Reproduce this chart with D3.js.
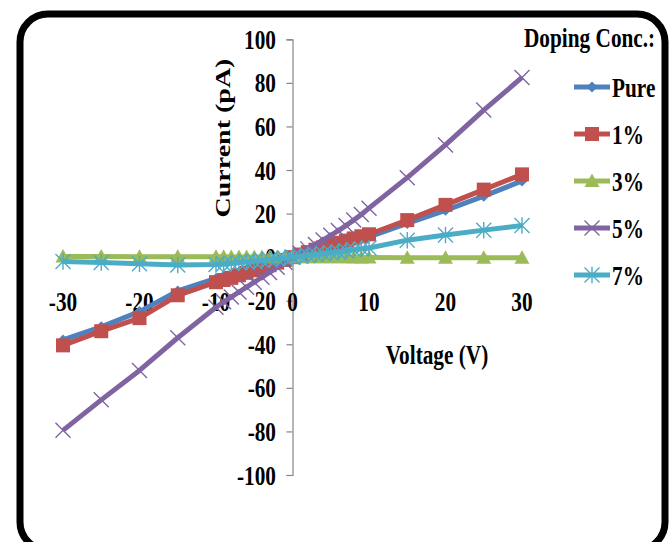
<!DOCTYPE html>
<html>
<head>
<meta charset="utf-8">
<script src="https://cdn.jsdelivr.net/npm/d3@7"></script>
<style>
  html, body { margin: 0; padding: 0; background: #fff; }
  svg { display: block; }
</style>
</head>
<body>
<svg id="chart" width="672" height="542"></svg>
<script>
// ---- data ----
const voltage = [-30, -25, -20, -15, -10, -9, -8, -7, -6, -5, -4, -3, -2, -1, 0, 1, 2, 3, 4, 5, 6, 7, 8, 9, 10, 15, 20, 25, 30];
const pure  = [-38, -32, -25, -15.5, -9.8, -8.8, -7.8, -6.8, -5.8, -4.8, -3.8, -2.8, -1.9, -0.9, 0, 0.9, 1.8, 2.7, 3.6, 4.5, 5.4, 6.3, 7.3, 8.3, 9.3, 15.5, 21.5, 28, 35];
const dop1  = [-40.5, -34, -28, -17.5, -11.5, -10.5, -9.5, -8.3, -7.2, -6, -4.9, -3.7, -2.5, -1.3, 0, 1.2, 2.3, 3.4, 4.5, 5.6, 6.6, 7.6, 8.6, 9.6, 10.5, 17, 24, 31, 38];
const dop3  = [0.3, 0.3, 0.2, 0.2, 0.2, 0.2, 0.1, 0.1, 0.1, 0.1, 0.1, 0, 0, 0, 0, 0, 0, 0, -0.1, -0.1, -0.1, -0.1, -0.2, -0.2, -0.2, -0.3, -0.3, -0.3, -0.3];
const dop5  = [-79.5, -65.5, -52, -37, -23, -20.5, -18.3, -16, -13.8, -11.5, -9.2, -7, -4.6, -2.3, 0, 1.8, 3.8, 5.8, 7.9, 10, 12.2, 14.5, 17, 19.6, 22.5, 36.5, 51.5, 67.5, 82.5];
const dop7  = [-2, -2.5, -3, -3.6, -3.4, -3.1, -2.8, -2.5, -2.2, -1.9, -1.5, -1.1, -0.8, -0.4, 0, 0.4, 0.8, 1.2, 1.6, 2, 2.4, 2.9, 3.4, 3.9, 4.2, 7.8, 10.2, 12.4, 14.5];

const seriesNames  = ["Pure", "1%", "3%", "5%", "7%"];
const seriesColors = ["#4F81BD", "#C0504D", "#9BBB59", "#8064A2", "#4BACC6"];
const seriesMarks  = ["diamond", "square", "triangle", "x", "star"];
const seriesValues = [pure, dop1, dop3, dop5, dop7];

const xTicks = [-30, -20, -10, 0, 10, 20, 30];
const yTicks = [-100, -80, -60, -40, -20, 0, 20, 40, 60, 80, 100];

const xTitle = "Voltage (V)";
const yTitle = "Current (pA)";
const legendTitle = "Doping Conc.:";

// ---- layout ----
const svg = d3.select("#chart");
const FONT = "'Liberation Serif', 'Times New Roman', serif";
const FS = 28, SQ = 0.76;

const x = d3.scaleLinear().domain([-30, 30]).range([63, 522]);
const y = d3.scaleLinear().domain([-100, 100]).range([475, 39.3]);

// frame
svg.append("rect")
  .attr("x", 20).attr("y", 14).attr("width", 645).attr("height", 536)
  .attr("rx", 28).attr("ry", 28)
  .attr("fill", "#fff").attr("stroke", "#000").attr("stroke-width", 7);

function label(t, px, py, anchor, rot) {
  return svg.append("text")
    .attr("transform", `translate(${px},${py}) scale(${SQ},1)` + (rot ? ` rotate(${rot})` : ""))
    .attr("text-anchor", anchor)
    .attr("font-family", FONT).attr("font-weight", "bold").attr("font-size", FS)
    .attr("fill", "#000")
    .text(t);
}

// x axis line at y=0
const xAxis = svg.append("g").attr("transform", `translate(0,${y(0)})`)
  .call(d3.axisBottom(x).tickValues(xTicks).tickSize(0).tickFormat(""));
xAxis.select(".domain").attr("stroke", "#868686").attr("stroke-width", 1);

// y axis at x=0
const yAxis = svg.append("g").attr("transform", `translate(${x(0)},0)`)
  .call(d3.axisLeft(y).tickValues(yTicks).tickSize(6).tickSizeOuter(6).tickFormat(""));
yAxis.selectAll("path, line").attr("stroke", "#868686").attr("stroke-width", 1.2);

// tick labels
yTicks.forEach(v => label(String(v), 276, y(v) + 9.5, "end"));
xTicks.forEach(v => label(String(v), x(v), 311, "middle"));

// axis titles
label(yTitle, 230, 138, "middle", -90);
label(xTitle, 437, 364, "middle");

// ---- markers ----
function marker(g, type, color, cx, cy) {
  if (type === "diamond") {
    const s = 5.5;
    g.append("path").attr("d", `M${cx},${cy - s}L${cx + s},${cy}L${cx},${cy + s}L${cx - s},${cy}Z`).attr("fill", color);
  } else if (type === "square") {
    const s = 7;
    g.append("rect").attr("x", cx - s).attr("y", cy - s).attr("width", 2 * s).attr("height", 2 * s).attr("fill", color);
  } else if (type === "triangle") {
    const s = 7.5;
    g.append("path").attr("d", `M${cx},${cy - s}L${cx + s},${cy + s * 0.8}L${cx - s},${cy + s * 0.8}Z`).attr("fill", color);
  } else if (type === "x") {
    const s = 7.5;
    g.append("path").attr("d", `M${cx - s},${cy - s}L${cx + s},${cy + s}M${cx - s},${cy + s}L${cx + s},${cy - s}`)
      .attr("stroke", color).attr("stroke-width", 1.4).attr("fill", "none");
  } else if (type === "star") {
    const s = 7.5;
    g.append("path").attr("d", `M${cx - s},${cy - s}L${cx + s},${cy + s}M${cx - s},${cy + s}L${cx + s},${cy - s}M${cx},${cy - s * 1.1}L${cx},${cy + s * 1.1}`)
      .attr("stroke", color).attr("stroke-width", 1.4).attr("fill", "none");
  }
}

const line = d3.line().x(d => x(d[0])).y(d => y(d[1]));

seriesValues.forEach((vals, i) => {
  const pts = voltage.map((v, k) => [v, vals[k]]);
  const g = svg.append("g");
  g.append("path").datum(pts).attr("d", line)
    .attr("fill", "none").attr("stroke", seriesColors[i]).attr("stroke-width", 5)
    .attr("stroke-linejoin", "round");
  pts.forEach(p => marker(g, seriesMarks[i], seriesColors[i], x(p[0]), y(p[1])));
});

// ---- legend ----
label(legendTitle, 524, 47, "start");
const legY = [87, 134, 181, 228, 275];
seriesNames.forEach((n, i) => {
  const g = svg.append("g");
  g.append("line").attr("x1", 574).attr("x2", 610).attr("y1", legY[i]).attr("y2", legY[i])
    .attr("stroke", seriesColors[i]).attr("stroke-width", 5);
  marker(g, seriesMarks[i], seriesColors[i], 592, legY[i]);
  label(n, 612, legY[i] + 9.5, "start");
});
</script>
</body>
</html>
